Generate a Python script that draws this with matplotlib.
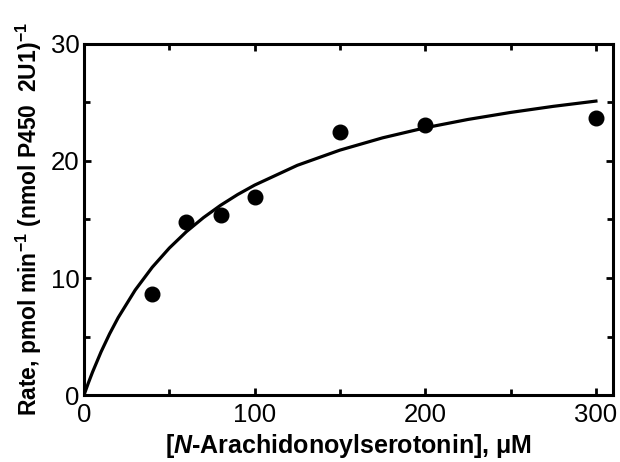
import matplotlib
matplotlib.use("Agg")
import matplotlib.pyplot as plt
from matplotlib.ticker import MultipleLocator

plt.rcParams["font.family"] = ["Liberation Sans", "DejaVu Sans"]
plt.rcParams["mathtext.fontset"] = "custom"
plt.rcParams["mathtext.rm"] = "Liberation Sans:bold"
plt.rcParams["mathtext.it"] = "Liberation Sans:italic:bold"
plt.rcParams["mathtext.bf"] = "Liberation Sans:bold"

# measured rates
conc_um = [40, 60, 80, 100, 150, 200, 300]
rate = [8.6, 14.8, 15.4, 16.9, 22.5, 23.1, 23.7]

# fitted curve
curve_x = [0, 2.5, 5, 10, 15, 20, 30, 40, 50, 60, 70, 80, 90, 100, 125, 150,
           175, 200, 225, 250, 275, 300]
curve_y = [0, 1.01, 1.96, 3.69, 5.23, 6.61, 8.97, 10.92, 12.56, 13.96, 15.16,
           16.21, 17.13, 17.94, 19.63, 20.93, 21.98, 22.84, 23.55, 24.15,
           24.67, 25.12]

fig = plt.figure(figsize=(6.2, 4.62), dpi=100)
ax = fig.add_axes([0.1355, 0.145, 0.8532, 0.7598])

ax.plot(curve_x, curve_y, color="black", lw=2.3, zorder=2)
ax.plot(conc_um, rate, "o", color="black", ms=10.5, zorder=3)

ax.set_xlim(0, 310)
ax.set_ylim(0, 30)
ax.xaxis.set_major_locator(MultipleLocator(100))
ax.xaxis.set_minor_locator(MultipleLocator(50))
ax.yaxis.set_major_locator(MultipleLocator(10))
ax.yaxis.set_minor_locator(MultipleLocator(5))

for s in ax.spines.values():
    s.set_linewidth(2.2)
ax.tick_params(which="both", direction="in", top=True, right=True,
               width=2, labelsize=18.5, pad=3)
ax.tick_params(axis="x", which="both", pad=6)
ax.tick_params(which="major", length=5)
ax.tick_params(which="minor", length=4)

ax.set_xlabel(r"[$\mathit{N}$-Arachidonoylserotonin], μM",
              fontsize=18, fontweight="bold", labelpad=3)
ax.set_ylabel(r"Rate, pmol min$^{-1}$ (nmol P450  2U1)$^{-1}$",
              fontsize=16.5, fontweight="bold", labelpad=5)

fig.savefig("out.png", dpi=100)
